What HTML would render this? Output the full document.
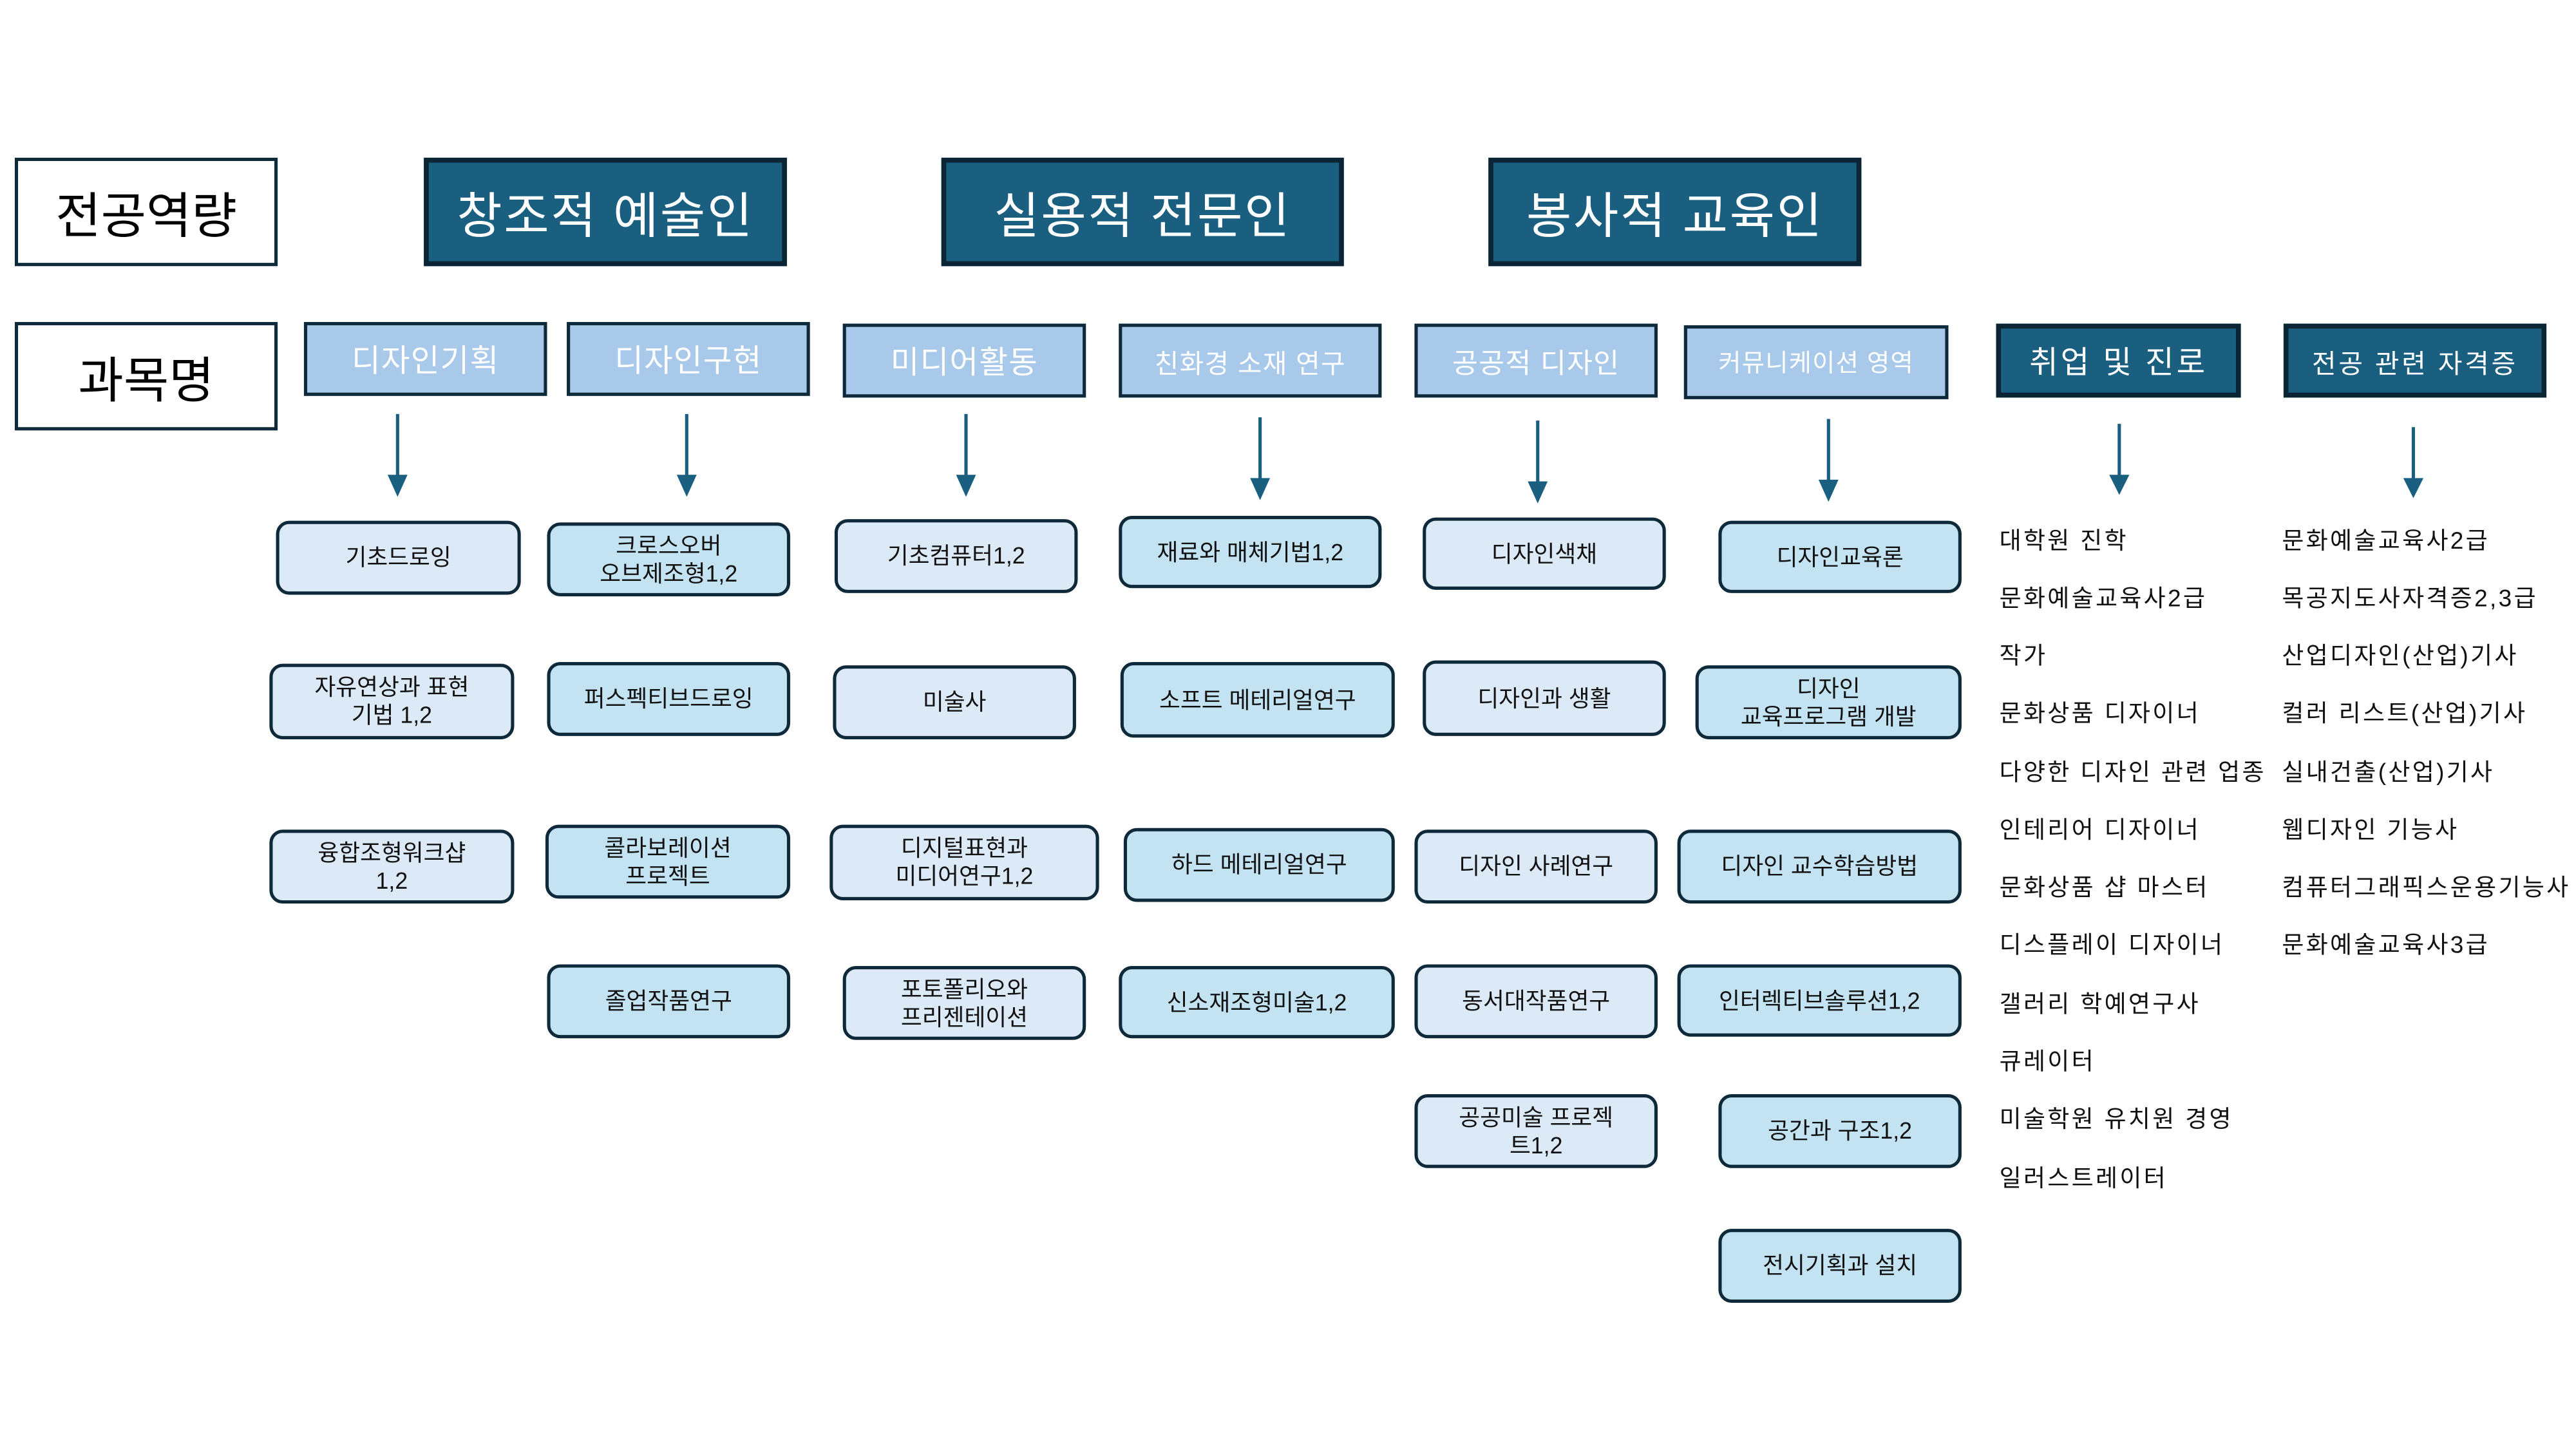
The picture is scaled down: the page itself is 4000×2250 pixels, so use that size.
<!DOCTYPE html>
<html><head><meta charset="utf-8"><style>
html,body{margin:0;padding:0;background:#fff;}
body{width:4000px;height:2250px;overflow:hidden;position:relative;}
#c{position:absolute;left:0;top:0;width:1568px;height:882px;transform:scale(2.55102);transform-origin:0 0;font-family:"Liberation Sans","Noto Sans CJK KR",sans-serif;}
.b{position:absolute;box-sizing:border-box;display:flex;align-items:center;justify-content:center;text-align:center;}
.w{background:#fff;border:2.5px solid #0e2a3a;font-size:30px;color:#000;}
.d{background:#1a5e80;border:3px solid #0b2535;color:#fff;font-size:30px;letter-spacing:1px;}
.d2{background:#1a5e80;border:3px solid #0b2535;color:#fff;font-size:19px;letter-spacing:1.5px;}
.c{background:#a9c9ea;border:2.5px solid #0e2a3a;color:#fff;font-size:19px;letter-spacing:0.5px;}
.n{border:2.5px solid #0e2a3a;border-radius:8px;font-size:14px;line-height:17px;color:#111;}
.l{background:#dce9f6;}
.k{background:#c3e3f3;}
.t{position:absolute;font-size:14.5px;letter-spacing:1.3px;color:#111;white-space:nowrap;}
svg{position:absolute;left:0;top:0;}
</style></head><body><div id="c">
<div class="b w" style="left:9px;top:96px;width:160px;height:66px">전공역량</div>
<div class="b w" style="left:9px;top:196px;width:160px;height:66px">과목명</div>
<div class="b d" style="left:258px;top:96px;width:221px;height:66px">창조적 예술인</div>
<div class="b d" style="left:573px;top:96px;width:245px;height:66px">실용적 전문인</div>
<div class="b d" style="left:906px;top:96px;width:227px;height:66px">봉사적 교육인</div>

<div class="b c" style="left:185px;top:196px;width:148px;height:45px">디자인기획</div>
<div class="b c" style="left:345px;top:196px;width:148px;height:45px">디자인구현</div>
<div class="b c" style="left:513px;top:197px;width:148px;height:45px">미디어활동</div>
<div class="b c" style="left:681px;top:197px;width:160px;height:45px;font-size:16px">친화경 소재 연구</div>
<div class="b c" style="left:861px;top:197px;width:148px;height:45px;font-size:17px">공공적 디자인</div>
<div class="b c" style="left:1025px;top:198px;width:161px;height:45px;font-size:15px">커뮤니케이션 영역</div>
<div class="b d2" style="left:1215px;top:197px;width:149px;height:45px">취업 및 진로</div>
<div class="b d2" style="left:1390px;top:197px;width:160px;height:45px;font-size:16px">전공 관련 자격증</div>

<svg width="1568" height="882" viewBox="0 0 1568 882">
<g stroke="#1a5e80" stroke-width="2" fill="#1a5e80">
<line x1="242" y1="252" x2="242" y2="292"/><polygon points="237.5,290 246.5,290 242,300"/>
<line x1="418" y1="252" x2="418" y2="292"/><polygon points="413.5,290 422.5,290 418,300"/>
<line x1="588" y1="252" x2="588" y2="292"/><polygon points="583.5,290 592.5,290 588,300"/>
<line x1="767" y1="254" x2="767" y2="294"/><polygon points="762.5,292 771.5,292 767,302"/>
<line x1="936" y1="256" x2="936" y2="296"/><polygon points="931.5,294 940.5,294 936,304"/>
<line x1="1113" y1="255" x2="1113" y2="295"/><polygon points="1108.5,293 1117.5,293 1113,303"/>
<line x1="1290" y1="258" x2="1290" y2="291"/><polygon points="1285.5,290 1294.5,290 1290,299"/>
<line x1="1469" y1="260" x2="1469" y2="293"/><polygon points="1464.5,292 1473.5,292 1469,301"/>
</g></svg>

<div class="b n l" style="left:168px;top:317px;width:149px;height:45px">기초드로잉</div>
<div class="b n l" style="left:164px;top:404px;width:149px;height:46px">자유연상과 표현<br>기법 1,2</div>
<div class="b n l" style="left:164px;top:505px;width:149px;height:45px">융합조형워크샵<br>1,2</div>

<div class="b n k" style="left:333px;top:318px;width:148px;height:45px">크로스오버<br>오브제조형1,2</div>
<div class="b n k" style="left:333px;top:403px;width:148px;height:45px">퍼스펙티브드로잉</div>
<div class="b n k" style="left:332px;top:502px;width:149px;height:45px">콜라보레이션<br>프로젝트</div>
<div class="b n k" style="left:333px;top:587px;width:148px;height:45px">졸업작품연구</div>

<div class="b n l" style="left:508px;top:316px;width:148px;height:45px">기초컴퓨터1,2</div>
<div class="b n l" style="left:507px;top:405px;width:148px;height:45px">미술사</div>
<div class="b n l" style="left:505px;top:502px;width:164px;height:46px">디지털표현과<br>미디어연구1,2</div>
<div class="b n l" style="left:513px;top:588px;width:148px;height:45px">포토폴리오와<br>프리젠테이션</div>

<div class="b n k" style="left:681px;top:314px;width:160px;height:44px">재료와 매체기법1,2</div>
<div class="b n k" style="left:682px;top:403px;width:167px;height:46px">소프트 메테리얼연구</div>
<div class="b n k" style="left:684px;top:504px;width:165px;height:45px">하드 메테리얼연구</div>
<div class="b n k" style="left:681px;top:588px;width:168px;height:44px">신소재조형미술1,2</div>

<div class="b n l" style="left:866px;top:315px;width:148px;height:44px">디자인색채</div>
<div class="b n l" style="left:866px;top:402px;width:148px;height:46px">디자인과 생활</div>
<div class="b n l" style="left:861px;top:505px;width:148px;height:45px">디자인 사례연구</div>
<div class="b n l" style="left:861px;top:587px;width:148px;height:45px">동서대작품연구</div>
<div class="b n l" style="left:861px;top:666px;width:148px;height:45px">공공미술 프로젝<br>트1,2</div>

<div class="b n k" style="left:1046px;top:317px;width:148px;height:44px">디자인교육론</div>
<div class="b n k" style="left:1032px;top:405px;width:162px;height:45px">디자인<br>교육프로그램 개발</div>
<div class="b n k" style="left:1021px;top:505px;width:173px;height:45px">디자인 교수학습방법</div>
<div class="b n k" style="left:1021px;top:587px;width:173px;height:44px">인터렉티브솔루션1,2</div>
<div class="b n k" style="left:1046px;top:666px;width:148px;height:45px">공간과 구조1,2</div>
<div class="b n k" style="left:1046px;top:748px;width:148px;height:45px">전시기획과 설치</div>

<div class="t" style="left:1217px;top:318px">대학원 진학</div>
<div class="t" style="left:1217px;top:353px">문화예술교육사2급</div>
<div class="t" style="left:1217px;top:388px">작가</div>
<div class="t" style="left:1217px;top:423px">문화상품 디자이너</div>
<div class="t" style="left:1217px;top:459px">다양한 디자인 관련 업종</div>
<div class="t" style="left:1217px;top:494px">인테리어 디자이너</div>
<div class="t" style="left:1217px;top:529px">문화상품 샵 마스터</div>
<div class="t" style="left:1217px;top:564px">디스플레이 디자이너</div>
<div class="t" style="left:1217px;top:600px">갤러리 학예연구사</div>
<div class="t" style="left:1217px;top:635px">큐레이터</div>
<div class="t" style="left:1217px;top:670px">미술학원 유치원 경영</div>
<div class="t" style="left:1217px;top:706px">일러스트레이터</div>

<div class="t" style="left:1389px;top:318px">문화예술교육사2급</div>
<div class="t" style="left:1389px;top:353px">목공지도사자격증2,3급</div>
<div class="t" style="left:1389px;top:388px">산업디자인(산업)기사</div>
<div class="t" style="left:1389px;top:423px">컬러 리스트(산업)기사</div>
<div class="t" style="left:1389px;top:459px">실내건출(산업)기사</div>
<div class="t" style="left:1389px;top:494px">웹디자인 기능사</div>
<div class="t" style="left:1389px;top:529px">컴퓨터그래픽스운용기능사</div>
<div class="t" style="left:1389px;top:564px">문화예술교육사3급</div>
</div></body></html>
